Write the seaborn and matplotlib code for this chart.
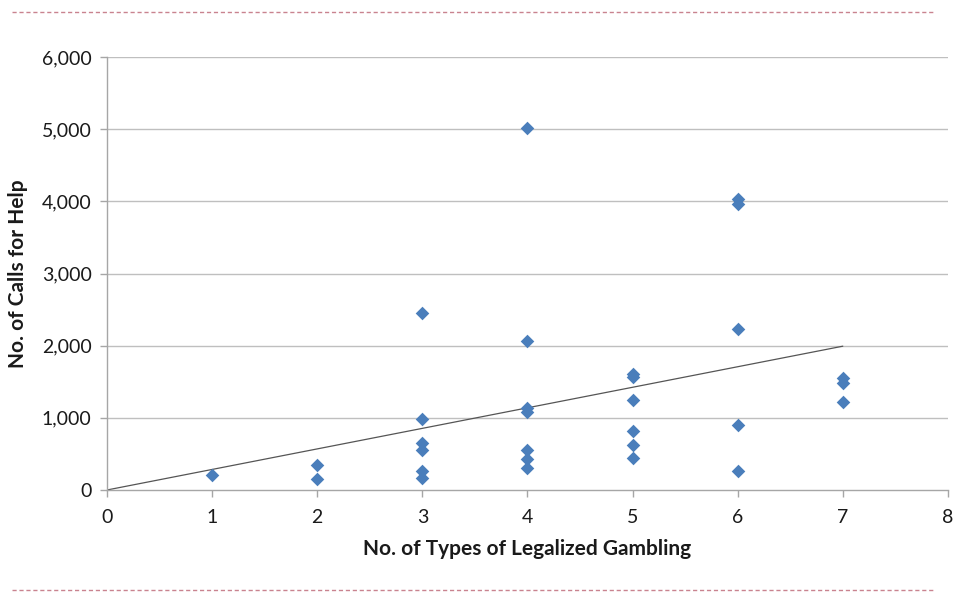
import numpy as np
import pandas as pd
import matplotlib
matplotlib.use("Agg")
import matplotlib.pyplot as plt
import seaborn as sns
from matplotlib.lines import Line2D
from matplotlib.ticker import FuncFormatter

# dati
types_x = [1,
           2, 2,
           3, 3, 3, 3, 3, 3,
           4, 4, 4, 4, 4, 4, 4,
           5, 5, 5, 5, 5, 5,
           6, 6, 6, 6, 6,
           7, 7, 7]
calls_y = [210,
           350, 150,
           2450, 990, 650, 560, 260, 170,
           5020, 2070, 1130, 1080, 550, 430, 310,
           1610, 1560, 1250, 820, 630, 450,
           4030, 3960, 2230, 900, 260,
           1550, 1480, 1220]
x_ticks = [0, 1, 2, 3, 4, 5, 6, 7, 8]
y_ticks = [0, 1000, 2000, 3000, 4000, 5000, 6000]

df = pd.DataFrame({"types": types_x, "calls": calls_y})

sns.set_theme(style="white")
plt.rcParams["font.family"] = ["Lato", "DejaVu Sans"]

fig = plt.figure(figsize=(9.55, 5.92), dpi=100)
ax = fig.add_axes([0.112, 0.1723, 0.8806, 0.7314])

# griglia orizzontale
for yv in y_ticks[1:]:
    ax.axhline(yv, color="#bfbfbf", lw=1.0, zorder=0)

sns.scatterplot(data=df, x="types", y="calls", marker="D", s=48,
                color="#4a7ebb", edgecolor="#4a7ebb", linewidth=0, ax=ax, zorder=3)

# linea di tendenza (regressione per l'origine)
xa = df["types"].to_numpy(float)
ya = df["calls"].to_numpy(float)
slope = (xa * ya).sum() / (xa * xa).sum()
xl = np.array([0, 7])
ax.plot(xl, slope * xl * 0.985, color="#555555", lw=0.9, zorder=2)

ax.set_xlim(0, 8)
ax.set_ylim(0, 6000)
ax.set_xticks(x_ticks)
ax.set_yticks(y_ticks)
ax.yaxis.set_major_formatter(FuncFormatter(lambda v, p: f"{int(v):,}"))

for s in ["top", "right"]:
    ax.spines[s].set_visible(False)
for s in ["left", "bottom"]:
    ax.spines[s].set_color("#a6a6a6")
    ax.spines[s].set_linewidth(1.0)

ax.tick_params(axis="both", which="major", direction="out", length=5,
               color="#a6a6a6", width=1, labelsize=14, labelcolor="#1a1a1a",
               bottom=True, left=True)
ax.tick_params(axis="x", pad=9)
ax.tick_params(axis="y", pad=6)

ax.set_xlabel("No. of Types of Legalized Gambling", fontsize=15,
              fontweight="bold", color="#1a1a1a", labelpad=9)
ax.set_ylabel("No. of Calls for Help", fontsize=15,
              fontweight="bold", color="#1a1a1a", labelpad=10)

# linee tratteggiate decorative
for yy in [1 - 12 / 592, 1 - 590 / 592]:
    fig.add_artist(Line2D([12 / 955, 935 / 955], [yy, yy], transform=fig.transFigure,
                          color="#c9838f", lw=1.0, linestyle=(0, (3, 2))))

fig.savefig("out.png", dpi=100)
